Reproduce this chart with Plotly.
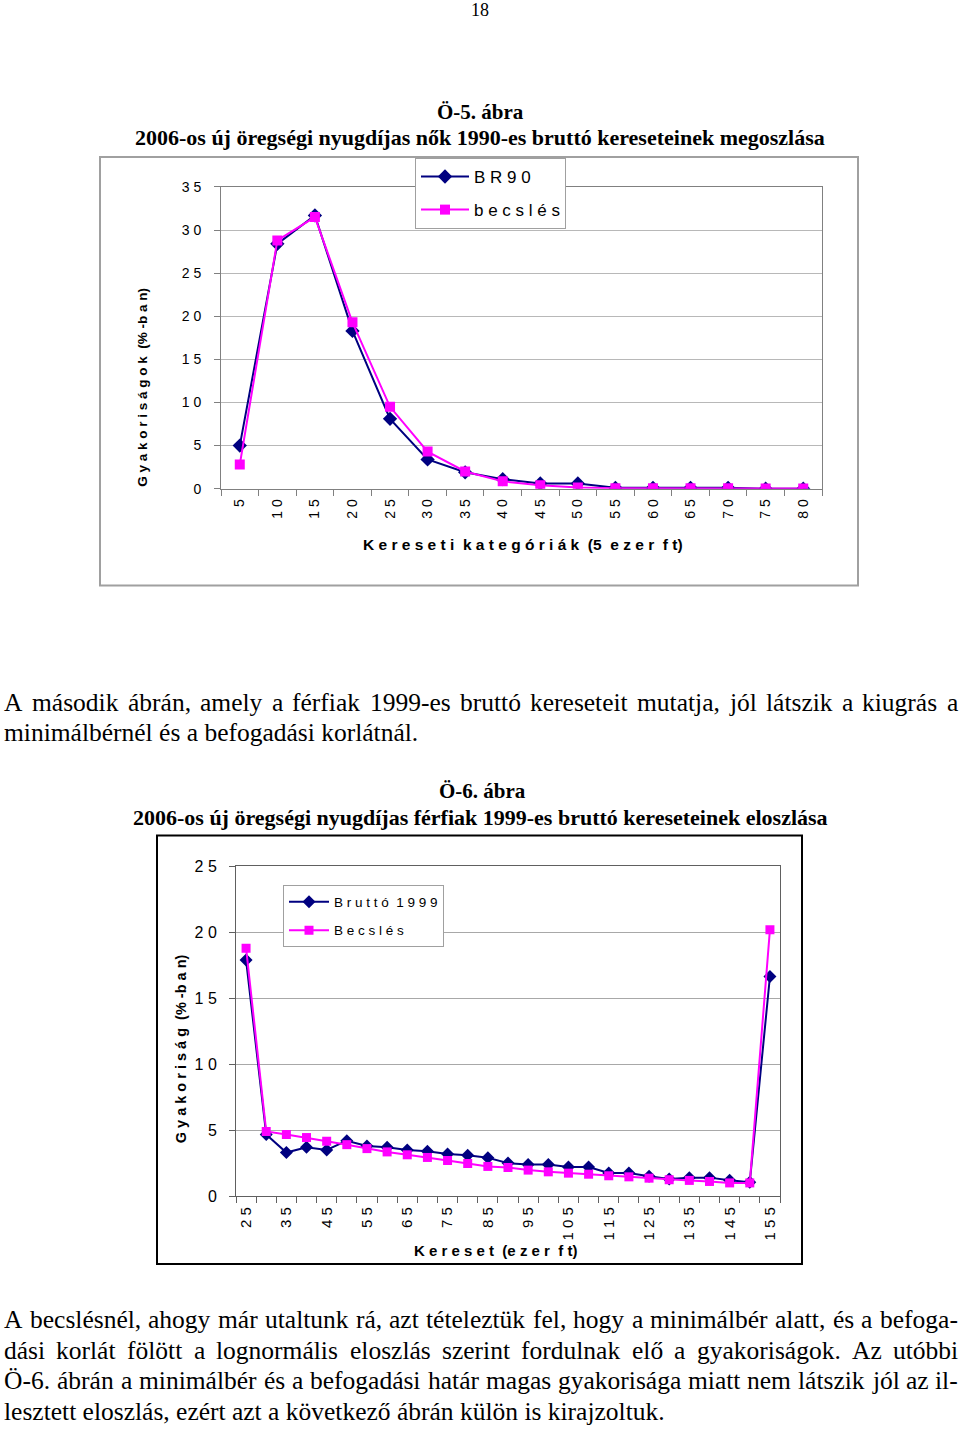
import plotly.graph_objects as go

W, H = 960, 1429
def fx(x): return x / W
def fy(y):
    # small vertical correction for the capture (page is 16px taller than figure)
    Y = y * 1445 / 1429 - 8
    return 1 - Y / H

# ---------------- data ----------------
cat1 = [5, 10, 15, 20, 25, 30, 35, 40, 45, 50, 55, 60, 65, 70, 75, 80]
br90 = [5.0, 28.4, 31.7, 18.3, 8.1, 3.4, 1.9, 1.1, 0.6, 0.6, 0.1, 0.1, 0.1, 0.1, 0.0, 0.0]
becsles1 = [2.8, 28.8, 31.5, 19.3, 9.5, 4.3, 2.0, 0.85, 0.4, 0.15, 0.05, 0.05, 0.05, 0.05, 0.03, 0.03]
ticktext1 = ["5", "1 0", "1 5", "2 0", "2 5", "3 0", "3 5", "4 0", "4 5", "5 0",
             "5 5", "6 0", "6 5", "7 0", "7 5", "8 0"]
yticks1 = [0, 5, 10, 15, 20, 25, 30, 35]
yticktext1 = ["0", "5", "1 0", "1 5", "2 0", "2 5", "3 0", "3 5"]

cat2 = [25, 30, 35, 40, 45, 50, 55, 60, 65, 70, 75, 80, 85, 90, 95, 100,
        105, 110, 115, 120, 125, 130, 135, 140, 145, 150, 155]
brutto1999 = [17.9, 4.67, 3.3, 3.7, 3.5, 4.2, 3.8, 3.7, 3.5, 3.4, 3.2, 3.1, 2.9, 2.5,
              2.4, 2.4, 2.2, 2.2, 1.75, 1.75, 1.5, 1.3, 1.4, 1.4, 1.2, 1.05, 16.65]
becsles2 = [18.8, 4.9, 4.67, 4.44, 4.16, 3.9, 3.6, 3.35, 3.13, 2.93, 2.7, 2.47, 2.25,
            2.17, 1.97, 1.84, 1.74, 1.66, 1.54, 1.46, 1.36, 1.24, 1.19, 1.11, 1.0, 1.0, 20.2]
tickvals2 = [25, 35, 45, 55, 65, 75, 85, 95, 105, 115, 125, 135, 145, 155]
ticktext2 = ["2 5", "3 5", "4 5", "5 5", "6 5", "7 5", "8 5", "9 5", "1 0 5",
             "1 1 5", "1 2 5", "1 3 5", "1 4 5", "1 5 5"]
yticks2 = [0, 5, 10, 15, 20, 25]
yticktext2 = ["0", "5", "1 0", "1 5", "2 0", "2 5"]

NAVY = "#000080"
MAG = "#ff00ff"
SANS = "Liberation Sans Narrow, Liberation Sans, Arial, sans-serif"
SERIF = "Liberation Serif, Times New Roman, serif"

fig = go.Figure()

# chart 1
fig.add_trace(go.Scatter(x=cat1, y=br90, name="B R 9 0", mode="lines+markers",
                         line=dict(color=NAVY, width=2),
                         marker=dict(symbol="diamond", size=11, color=NAVY),
                         xaxis="x", yaxis="y", legend="legend", legendgroup="a"))
fig.add_trace(go.Scatter(x=cat1, y=becsles1, name="b e c s l é s", mode="lines+markers",
                         line=dict(color=MAG, width=2),
                         marker=dict(symbol="square", size=10, color=MAG),
                         xaxis="x", yaxis="y", legend="legend", legendgroup="b"))
# chart 2
fig.add_trace(go.Scatter(x=cat2, y=brutto1999, name="B r u t t ó  1 9 9 9", mode="lines+markers",
                         line=dict(color=NAVY, width=2),
                         marker=dict(symbol="diamond", size=10, color=NAVY),
                         xaxis="x2", yaxis="y2", legend="legend2", legendgroup="c"))
fig.add_trace(go.Scatter(x=cat2, y=becsles2, name="B e c s l é s", mode="lines+markers",
                         line=dict(color=MAG, width=2),
                         marker=dict(symbol="square", size=9, color=MAG),
                         xaxis="x2", yaxis="y2", legend="legend2", legendgroup="d"))

tickfont1 = dict(family=SANS, size=14, color="#000000")
tickfont2 = dict(family=SANS, size=16, color="#000000")

fig.update_layout(
    width=W, height=H, margin=dict(l=0, r=0, t=0, b=0),
    paper_bgcolor="white", plot_bgcolor="white",
    xaxis=dict(domain=[fx(221), fx(822)], anchor="y", range=[2.5, 82.5],
               tickmode="array", tickvals=cat1, ticktext=ticktext1, tickangle=-90,
               ticks="", showgrid=False, zeroline=False,
               showline=True, linecolor="#808080", linewidth=1, mirror=True,
               tickfont=tickfont1, ticklabelstandoff=4,
               minor=dict(tick0=2.5, dtick=5, ticks="outside", ticklen=6,
                          tickcolor="#808080", showgrid=False)),
    yaxis=dict(domain=[fy(489), fy(187)], anchor="x", range=[0, 35],
               tickmode="array", tickvals=yticks1, ticktext=yticktext1,
               ticks="outside", ticklen=6, tickcolor="#808080",
               showgrid=True, gridcolor="#b8b8b8", gridwidth=1, zeroline=False,
               showline=True, linecolor="#808080", linewidth=1, mirror=True,
               tickfont=tickfont1, ticklabelstandoff=10),
    xaxis2=dict(domain=[fx(236), fx(780)], anchor="y2", range=[22.5, 157.5],
                tickmode="array", tickvals=tickvals2, ticktext=ticktext2, tickangle=-90,
                ticks="", showgrid=False, zeroline=False,
                showline=True, linecolor="#606060", linewidth=1, mirror=True,
                tickfont=dict(family=SANS, size=15, color="#000000"), ticklabelstandoff=4,
                minor=dict(tick0=22.5, dtick=5, ticks="outside", ticklen=6,
                           tickcolor="#606060", showgrid=False)),
    yaxis2=dict(domain=[fy(1197), fy(867)], anchor="x2", range=[0, 25],
                tickmode="array", tickvals=yticks2, ticktext=yticktext2,
                ticks="outside", ticklen=6, tickcolor="#606060",
                showgrid=True, gridcolor="#a8a8a8", gridwidth=1, zeroline=False,
                showline=True, linecolor="#606060", linewidth=1, mirror=True,
                tickfont=tickfont2, ticklabelstandoff=9),
    legend=dict(x=fx(415), y=fy(158), xanchor="left", yanchor="top",
                bgcolor="white", bordercolor="#a0a0a0", borderwidth=1,
                font=dict(family=SANS, size=17, color="#000000"),
                tracegroupgap=8, itemwidth=48),
    legend2=dict(x=fx(283), y=fy(886), xanchor="left", yanchor="top",
                 bgcolor="white", bordercolor="#a0a0a0", borderwidth=1,
                 font=dict(family=SANS, size=13.5, color="#000000"),
                 tracegroupgap=8, itemwidth=40),
    showlegend=True,
)

# chart frames
fig.add_shape(type="rect", xref="paper", yref="paper",
              x0=fx(100), x1=fx(858), y0=fy(586), y1=fy(157),
              line=dict(color="#a0a0a0", width=2), layer="below")
fig.add_shape(type="rect", xref="paper", yref="paper",
              x0=fx(157), x1=fx(802), y0=fy(1265), y1=fy(836),
              line=dict(color="#000000", width=2), layer="below")

def ann(text, x, y, size, family=SERIF, bold=False, xanchor="center", angle=0):
    if bold:
        text = "<b>" + text + "</b>"
    fig.add_annotation(text=text, x=fx(x), y=fy(y), xref="paper", yref="paper",
                       xanchor=xanchor, yanchor="middle", showarrow=False,
                       textangle=angle, borderpad=0,
                       font=dict(family=family, size=size, color="#000000"))

# Times / Liberation Serif advance widths (per 1000 em)
TW = {" ": 250, "a": 444, "b": 500, "c": 444, "d": 500, "e": 444, "f": 333, "g": 500,
      "h": 500, "i": 278, "j": 278, "k": 500, "l": 278, "m": 778, "n": 500, "o": 500,
      "p": 500, "q": 500, "r": 333, "s": 389, "t": 278, "u": 500, "v": 500, "w": 722,
      "x": 500, "y": 500, "z": 444, "A": 722, "Ö": 722, "O": 722, "Z": 611,
      "á": 444, "é": 444, "í": 278, "ó": 500, "ö": 500, "ő": 500, "ü": 500, "ú": 500,
      ",": 250, ".": 250, "-": 333, "0": 500, "1": 500, "2": 500, "3": 500, "4": 500,
      "5": 500, "6": 500, "7": 500, "8": 500, "9": 500}

def textw(s, size):
    return sum(TW.get(c, 500) for c in s) * size / 1000.0

def justified(line, y, size, x0=3, x1=957):
    words = [w for w in line.split(" ") if w]
    total = sum(textw(w, size) for w in words)
    gap = (x1 - x0 - total) / (len(words) - 1)
    x = x0
    for w in words:
        ann(w, x, y, size, xanchor="left")
        x += textw(w, size) + gap

ann("18", 480, 10, 18)
ann("Ö-5. ábra", 480, 112, 21, bold=True)
ann("2006-os új öregségi nyugdíjas nők 1990-es bruttó kereseteinek megoszlása", 480, 138, 22, bold=True)

ann("G y a k o r i s á g o k  (% -b a n)", 143, 388, 13.5, family=SANS, bold=True, angle=-90)
ann("K e r e s e t i  k a t e g ó r i á k  (5  e z e r  f t)", 523, 545, 15.5, family=SANS, bold=True)

BS = 25.5
justified("A második ábrán, amely a férfiak 1999-es bruttó kereseteit mutatja, jól látszik a kiugrás a",
          703, BS)
ann("minimálbérnél és a befogadási korlátnál.", 3, 733, BS, xanchor="left")

ann("Ö-6. ábra", 482, 792, 21, bold=True)
ann("2006-os új öregségi nyugdíjas férfiak 1999-es bruttó kereseteinek eloszlása", 480, 818, 22, bold=True)

ann("G y a k o r i s á g  (% -b a n)", 181, 1050, 14.5, family=SANS, bold=True, angle=-90)
ann("K e r e s e t  (e z e r  f t)", 495, 1251, 15, family=SANS, bold=True)

body = [
    "A becslésnél, ahogy már utaltunk rá, azt tételeztük fel, hogy a minimálbér alatt, és a befoga-",
    "dási korlát fölött a lognormális eloszlás szerint fordulnak elő a gyakoriságok. Az utóbbi",
    "Ö-6. ábrán a minimálbér és a befogadási határ magas gyakorisága miatt nem látszik jól az il-",
    "lesztett eloszlás, ezért azt a következő ábrán külön is kirajzoltuk.",
]
for i, line in enumerate(body):
    y = 1321 + 30.5 * i
    if i < 3:
        justified(line, y, BS)
    else:
        ann(line, 3, y, BS, xanchor="left")

fig.write_html("out.html")
